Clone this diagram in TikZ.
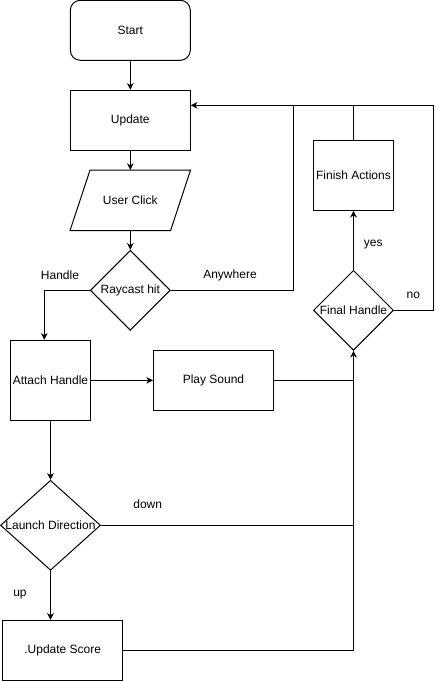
\documentclass[tikz,border=0pt]{standalone}
\usepackage{fontspec}
\setmainfont{Liberation Sans}
\usetikzlibrary{shapes.geometric,arrows.meta,calc}
\tikzset{
  base/.style={draw, line width=0.75pt, font=\fontsize{9pt}{11pt}\selectfont, inner sep=0pt, align=center},
  proc/.style={base, rectangle, minimum width=#1},
  startbox/.style={base, rectangle, rounded corners=7.5pt, minimum width=90pt, minimum height=45pt},
  dec/.style={base, diamond, minimum width=60pt, minimum height=60pt},
  iobox/.style={rectangle, minimum width=90pt, minimum height=45pt, inner sep=0pt},
  lbl/.style={font=\fontsize{9pt}{11pt}\selectfont, inner sep=0pt},
  conn/.style={line width=0.75pt},
  arr/.style={conn, -{Stealth[length=5pt,width=5pt,inset=1.5pt]}}
}
\begin{document}
\begin{tikzpicture}[x=0.75pt,y=-0.75pt]
\useasboundingbox (0,0) rectangle (435,681);
% nodes
\node[startbox] (start) at (130.3,30.3) {Start};
\node[base, minimum width=90pt, minimum height=45pt] (update) at (130.3,120.3) {Update};
\node[iobox] (click) at (130.3,200.3) {};
\draw[line width=0.75pt] ([xshift=15pt]click.north west) -- (click.north east) -- ([xshift=-15pt]click.south east) -- (click.south west) -- cycle;
\node[lbl] (clicktext) at (click.center) {User Click};
\node[base, diamond, minimum width=60pt, minimum height=60pt, label={[lbl]center:Raycast hit}] (ray) at (130.3,290.3) {};
\node[base, minimum width=60pt, minimum height=60pt] (attach) at (50.5,380.3) {Attach Handle};
\node[base, minimum width=90pt, minimum height=45pt] (sound) at (213.5,380.3) {Play Sound};
\node[base, diamond, minimum width=75pt, minimum height=67.5pt, label={[lbl]center:Launch Direction}] (launch) at (50.5,525.3) {};
\node[base, minimum width=90pt, minimum height=45pt] (score) at (62.7,650.3) {.Update Score};
\node[base, diamond, minimum width=60pt, minimum height=60pt, label={[lbl]center:Final Handle}] (final) at (353.5,310.3) {};
\node[base, minimum width=60pt, minimum height=52.5pt] (finish) at (353.5,175.3) {Finish Actions};
% helper coordinates
\coordinate (loopy) at (0,105.3);
\coordinate (handlex) at (44.3,0);
\coordinate (anyx) at (293.3,0);
\coordinate (nox) at (433.3,0);
\coordinate (joinLaunch) at (final.south |- launch.east);
\coordinate (joinSound) at (final.south |- sound.east);
% connectors
\draw[arr] (start) -- (update);
\draw[arr] (update) -- (click.north);
\draw[arr] (click.south) -- (ray.north);
\draw[arr] (ray.west) -- (ray.west -| handlex) -- (handlex |- attach.north);
\draw[arr] (ray.east) -- (ray.east -| anyx) -- (anyx |- loopy) -- (update.east |- loopy);
\draw[conn] (finish.north) -- (finish.north |- loopy);
\draw[conn] (final.east) -- (final.east -| nox) -- (nox |- loopy) -- (anyx |- loopy);
\draw[arr] (final.north) -- (finish.south);
\draw[arr] (attach.east) -- (sound.west);
\draw[arr] (sound.east) -- (joinSound) -- (final.south);
\draw[arr] (attach.south) -- (launch.north);
\draw[conn] (launch.east) -- (joinLaunch);
\draw[arr] (launch.south) -- (launch.south |- score.north);
\draw[conn] (score.east) -- (score.east -| joinSound) -- (joinSound);
% labels
\node[lbl] (lhandle) at (60,275) {Handle};
\node[lbl] (lany) at (230,275) {Anywhere};
\node[lbl] (lyes) at (373.3,245) {yes};
\node[lbl] (lno) at (413.3,295) {no};
\node[lbl] (ldown) at (147.7,504.3) {down};
\node[lbl] (lup) at (20,594.3) {up};
\end{tikzpicture}
\end{document}
